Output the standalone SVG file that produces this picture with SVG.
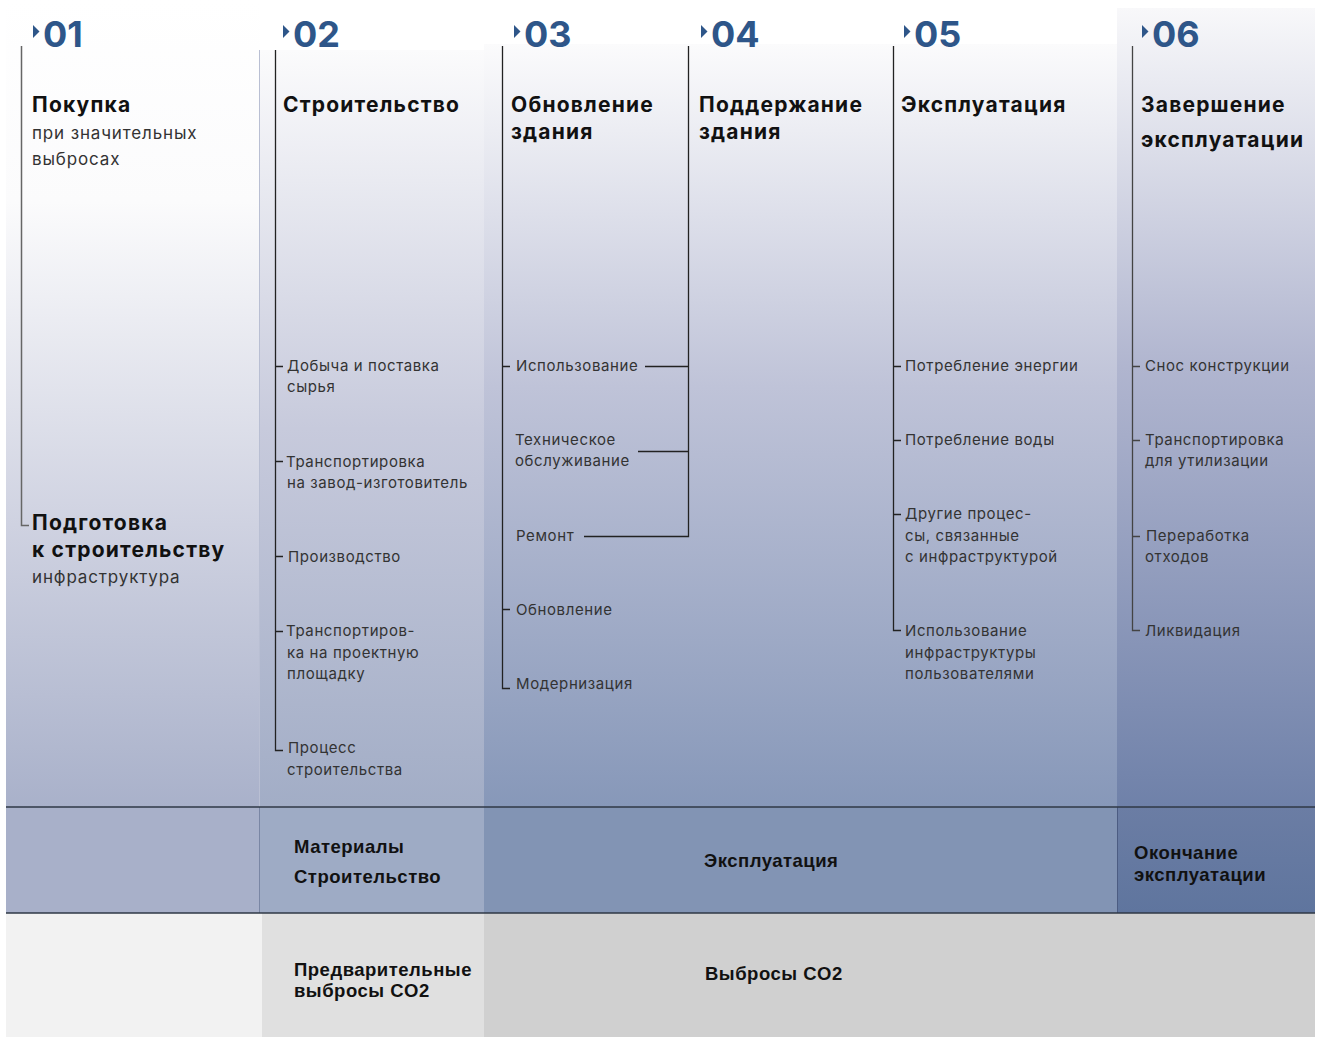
<svg xmlns="http://www.w3.org/2000/svg" width="1322" height="1037" viewBox="0 0 1322 1037">
<defs>
<linearGradient id="g1" x1="0" y1="0" x2="0" y2="1">
<stop offset="0" stop-color="#ffffff"/>
<stop offset="0.25" stop-color="#fbfbfc"/>
<stop offset="0.65" stop-color="#cfd2e1"/>
<stop offset="1" stop-color="#a9b1ca"/>
</linearGradient>
<linearGradient id="g2" x1="0" y1="0" x2="0" y2="1">
<stop offset="0" stop-color="#fbfbfc"/>
<stop offset="0.5" stop-color="#c7cadc"/>
<stop offset="1" stop-color="#a2adc6"/>
</linearGradient>
<linearGradient id="g3" x1="0" y1="0" x2="0" y2="1">
<stop offset="0" stop-color="#fbfbfc"/>
<stop offset="0.45" stop-color="#bfc3d8"/>
<stop offset="1" stop-color="#8798b9"/>
</linearGradient>
<linearGradient id="g4" x1="0" y1="0" x2="0" y2="1">
<stop offset="0" stop-color="#f8f8fa"/>
<stop offset="0.45" stop-color="#b0b5cf"/>
<stop offset="1" stop-color="#6f81a9"/>
</linearGradient>
<linearGradient id="r2c4" x1="0" y1="0" x2="0" y2="1">
<stop offset="0" stop-color="#6b7da4"/>
<stop offset="1" stop-color="#5f759e"/>
</linearGradient>
</defs>
<style>
.num{font-family:Inter,"Liberation Sans",sans-serif;font-weight:700;font-size:36px;fill:#2e5689}
.tri{fill:#2e5689}
.ttl{font-family:Inter,"Liberation Sans",sans-serif;font-weight:700;font-size:21px;letter-spacing:1.2px;fill:#111}
.sub{font-family:Inter,"Liberation Sans",sans-serif;font-size:17px;letter-spacing:0.85px;fill:#333}
.it{font-family:Inter,"Liberation Sans",sans-serif;font-size:15px;letter-spacing:0.6px;fill:#333}
.lab{font-family:"Liberation Sans",Arial,sans-serif;font-weight:700;font-size:18.5px;letter-spacing:0.5px;fill:#111}
.ln{stroke:#222;stroke-width:1.3;fill:none}
.ln1{stroke:#666;stroke-width:1.5;fill:none}
.sep{stroke:#2f3846;stroke-width:1.5}
</style>
<rect width="1322" height="1037" fill="#ffffff"/>
<g id="backgrounds">
<rect x="6" y="0" width="254" height="807" fill="url(#g1)"/>
<rect x="260" y="50" width="224" height="757" fill="url(#g2)"/>
<rect x="484" y="44" width="633" height="763" fill="url(#g3)"/>
<rect x="1117" y="8" width="198" height="799" fill="url(#g4)"/>
<rect x="6" y="807" width="254" height="106" fill="#a8b0c9"/>
<rect x="260" y="807" width="224" height="106" fill="#9eabc5"/>
<rect x="484" y="807" width="633" height="106" fill="#8294b4"/>
<rect x="1117" y="807" width="198" height="106" fill="url(#r2c4)"/>
<rect x="6" y="913" width="256" height="124" fill="#f2f2f2"/>
<rect x="262" y="913" width="222" height="124" fill="#e0e0e0"/>
<rect x="484" y="913" width="831" height="124" fill="#d0d0d0"/>
<line x1="259.5" y1="807" x2="259.5" y2="913" stroke="#7a86a4" stroke-width="1"/>
<line x1="259.5" y1="50" x2="259.5" y2="807" stroke="#b9bfd3" stroke-width="1"/>
<line x1="1117.5" y1="807" x2="1117.5" y2="913" stroke="#4c5c82" stroke-width="1"/>
<line x1="6" y1="807" x2="1315" y2="807" class="sep"/>
<line x1="6" y1="913" x2="1315" y2="913" class="sep"/>
</g>
<g id="connectors">
<path class="ln1" d="M21.5 46 V525.5 H29"/>
<path class="ln" d="M275.5 50 V750.5 H283 M275.5 366.5 H283 M275.5 461.5 H283 M275.5 556.5 H283 M275.5 631.5 H283"/>
<path class="ln" d="M502.5 46 V688.5 H510 M502.5 366.5 H510 M502.5 609.5 H510"/>
<path class="ln" d="M688.5 46 V536.5 H584 M645 366.5 H688.5 M638 451.5 H688.5"/>
<path class="ln" d="M893.5 46 V630.5 H901 M893.5 366.5 H901 M893.5 440.5 H901 M893.5 514.5 H901"/>
<path class="ln1" d="M1132.5 46 V630.5 H1140 M1132.5 366.5 H1140 M1132.5 440.5 H1140 M1132.5 536.5 H1140" style="stroke:#444;stroke-width:1.3"/>
</g>
<g id="col01">
<polygon class="tri" points="33,25 39.5,31.5 33,38"/>
<text class="num" x="43" y="47">01</text>
<text class="ttl" x="32" y="112">Покупка</text>
<text class="sub" x="32" y="139">при значительных</text>
<text class="sub" x="32" y="165">выбросах</text>
<text class="ttl" x="32" y="530">Подготовка</text>
<text class="ttl" x="32" y="557">к строительству</text>
<text class="sub" x="32" y="583">инфраструктура</text>
</g>
<g id="col02">
<polygon class="tri" points="283,25 289.5,31.5 283,38"/>
<text class="num" x="293" y="47">02</text>
<text class="ttl" x="283" y="112">Строительство</text>
<text class="it" x="287" y="371">Добыча и поставка</text>
<text class="it" x="287" y="392">сырья</text>
<text class="it" x="286" y="467">Транспортировка</text>
<text class="it" x="287" y="488">на завод-изготовитель</text>
<text class="it" x="288" y="562">Производство</text>
<text class="it" x="286" y="636">Транспортиров-</text>
<text class="it" x="287" y="658">ка на проектную</text>
<text class="it" x="287" y="679">площадку</text>
<text class="it" x="288" y="753">Процесс</text>
<text class="it" x="287" y="775">строительства</text>
</g>
<g id="col03">
<polygon class="tri" points="514,25 520.5,31.5 514,38"/>
<text class="num" x="524" y="47">03</text>
<text class="ttl" x="511" y="112">Обновление</text>
<text class="ttl" x="511" y="139">здания</text>
<text class="it" x="516" y="371">Использование</text>
<text class="it" x="515" y="445">Техническое</text>
<text class="it" x="515" y="466">обслуживание</text>
<text class="it" x="516" y="541">Ремонт</text>
<text class="it" x="516" y="615">Обновление</text>
<text class="it" x="516" y="689">Модернизация</text>
</g>
<g id="col04">
<polygon class="tri" points="701,25 707.5,31.5 701,38"/>
<text class="num" x="711" y="47">04</text>
<text class="ttl" x="699" y="112">Поддержание</text>
<text class="ttl" x="699" y="139">здания</text>
</g>
<g id="col05">
<polygon class="tri" points="904,25 910.5,31.5 904,38"/>
<text class="num" x="914" y="47">05</text>
<text class="ttl" x="901" y="112">Эксплуатация</text>
<text class="it" x="905" y="371">Потребление энергии</text>
<text class="it" x="905" y="445">Потребление воды</text>
<text class="it" x="905" y="519">Другие процес-</text>
<text class="it" x="905" y="541">сы, связанные</text>
<text class="it" x="905" y="562">с инфраструктурой</text>
<text class="it" x="905" y="636">Использование</text>
<text class="it" x="905" y="658">инфраструктуры</text>
<text class="it" x="905" y="679">пользователями</text>
</g>
<g id="col06">
<polygon class="tri" points="1142,25 1148.5,31.5 1142,38"/>
<text class="num" x="1152" y="47">06</text>
<text class="ttl" x="1141" y="112">Завершение</text>
<text class="ttl" x="1141" y="147">эксплуатации</text>
<text class="it" x="1145" y="371">Снос конструкции</text>
<text class="it" x="1145" y="445">Транспортировка</text>
<text class="it" x="1145" y="466">для утилизации</text>
<text class="it" x="1146" y="541">Переработка</text>
<text class="it" x="1145" y="562">отходов</text>
<text class="it" x="1145" y="636">Ликвидация</text>
</g>
<g id="row-phases">
<text class="lab" x="294" y="853">Материалы</text>
<text class="lab" x="294" y="883">Строительство</text>
<text class="lab" x="704" y="867">Эксплуатация</text>
<text class="lab" x="1134" y="859">Окончание</text>
<text class="lab" x="1134" y="881">эксплуатации</text>
</g>
<g id="row-emissions">
<text class="lab" x="294" y="976">Предварительные</text>
<text class="lab" x="294" y="997">выбросы CO2</text>
<text class="lab" x="705" y="980">Выбросы CO2</text>
</g>
</svg>
